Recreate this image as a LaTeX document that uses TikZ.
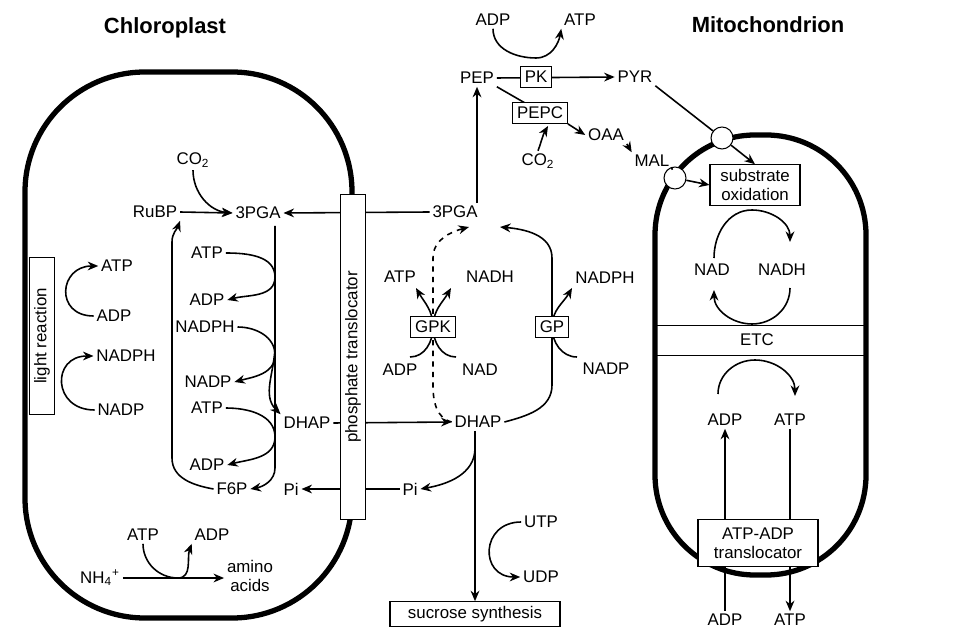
\documentclass[tikz,border=0pt]{standalone}
\usepackage{fontspec}
\setmainfont{Liberation Sans}
\usetikzlibrary{arrows.meta}
\tikzset{
  lbl/.style={inner sep=1.5pt, font=\fontsize{9.6}{11}\selectfont},
  box/.style={lbl, draw, fill=white, line width=0.6pt, inner sep=2.5pt},
  ttl/.style={font=\fontsize{12.5}{14}\selectfont\bfseries},
  ln/.style={line width=0.9pt},
  flow/.style={ln, -{Stealth[length=6pt,width=5pt]}},
  membrane/.style={line width=3pt},
}
\begin{document}
\begin{tikzpicture}[x=0.02cm, y=-0.02cm]
  \useasboundingbox (0,0) rectangle (969,644);

  %% titles
  \node[ttl] (tchl) at (165,28) {Chloroplast};
  \node[ttl] (tmit) at (768,25) {Mitochondrion};

  %% membranes
  \draw[membrane, rounded corners=2.4cm] (25,72) rectangle (352,618);
  \draw[membrane, rounded corners=2cm] (655,135) rectangle (866,575);
  \draw[line width=0.5pt] (656,325) -- (864,325) (656,355) -- (864,355);

  %% chloroplast labels
  \node[lbl] (cco) at (193,160) {CO\textsubscript{2}};
  \node[lbl] (rubp) at (155,212) {RuBP};
  \node[lbl] (cpga) at (258,213) {3PGA};
  \node[lbl] (latp) at (117,266) {ATP};
  \node[lbl] (ladp) at (114,316) {ADP};
  \node[lbl] (lnph) at (126,356) {NADPH};
  \node[lbl] (lnp) at (121,410) {NADP};
  \node[lbl] (a1) at (207,253) {ATP};
  \node[lbl] (d1) at (207,300) {ADP};
  \node[lbl] (nph) at (205,327) {NADPH};
  \node[lbl] (np) at (208,382) {NADP};
  \node[lbl] (a2) at (207,408) {ATP};
  \node[lbl] (d2) at (207,465) {ADP};
  \node[lbl] (f6p) at (232,489) {F6P};
  \node[lbl] (cdhap) at (307,423) {DHAP};
  \node[lbl] (cpi) at (291,489) {Pi};
  \node[lbl] (batp) at (143,535) {ATP};
  \node[lbl] (badp) at (212,535) {ADP};
  \node[lbl] (nh) at (100,578) {NH\textsubscript{4}\textsuperscript{+}};
  \node[lbl, align=center] (amino) at (250,576) {amino\\acids};

  %% light reaction
  \draw[flow] (ladp.west) to[out=180, in=180, looseness=2] (latp.west);
  \draw[flow] (lnp.west) to[out=180, in=180, looseness=2] (lnph.west);
  \node[box, rotate=90, minimum width=3.14cm, minimum height=0.34cm] (light) at (42,336) {light reaction};

  %% Calvin cycle
  \draw[flow] (rubp.east) -- (cpga.west);
  \draw[flow] (cco.south) to[out=-90, in=175] (cpga.west);
  \draw[flow] (275,226) -- (275,468) to[out=-90, in=10] (f6p.east);
  \draw[flow] (f6p.west) to[out=170, in=-90] (172,458) -- (172,242) to[out=90, in=-110] (rubp.south east);
  \draw[flow] (a1.east) to[out=0, in=90] (275,277) to[out=-90, in=15] (d1.east);
  \draw[flow] (nph.east) to[out=0, in=90] (275,355) to[out=-90, in=15] (np.east);
  \draw[flow] (a2.east) to[out=0, in=90] (275,437) to[out=-90, in=15] (d2.east);
  \draw[flow] (275,345) to[out=-90, in=135] (cdhap.north west);

  %% nitrogen
  \draw[flow] (nh.east) -- (amino.west |- nh.east);
  \draw[flow] (batp.south) to[out=-90, in=180] (178,578) to[out=0, in=-110] (badp.south west);

  %% cytosol
  \node[lbl] (mpga) at (455,212) {3PGA};
  \node[lbl] (mdhap) at (478,422) {DHAP};
  \node[lbl] (rpi) at (410,489) {Pi};
  \node[lbl] (gatp) at (400,277) {ATP};
  \node[lbl] (gnadh) at (490,277) {NADH};
  \node[lbl] (gadp) at (400,370) {ADP};
  \node[lbl] (gnad) at (480,370) {NAD};
  \node[lbl] (gnph) at (605,278) {NADPH};
  \node[lbl] (gnp) at (606,369) {NADP};
  \node[lbl] (utp) at (541,522) {UTP};
  \node[lbl] (udp) at (541,577) {UDP};
  \node[box, minimum width=3.4cm] (sucr) at (475,614) {sucrose synthesis};

  \draw[flow] (mpga.west) -- (cpga.east);
  \draw[flow] (cdhap.east) -- (mdhap.west);
  \draw[flow] (rpi.west) -- (cpi.east);
  \node[box, rotate=90, minimum width=6.5cm, minimum height=0.34cm] (ptr) at (353,357) {phosphate translocator};

  \draw[flow, dashed] (mdhap.west) to[out=165, in=-90] (433,385) -- (433,258) to[out=90, in=195] (469,227);
  \draw[flow] (mdhap.east) to[out=15, in=-90] (552,385) -- (552,258) to[out=90, in=-5] (500,227);
  \draw[flow] (410,357) to[out=0, in=-90] (433,327) to[out=90, in=-60] (416,288);
  \draw[flow] (456,357) to[out=180, in=-90] (433,327) to[out=90, in=-120] (451,288);
  \draw[flow] (577,357) to[out=180, in=-90] (552,327) to[out=90, in=-120] (572,288);
  \node[box] (gpk) at (433,327) {GPK};
  \node[box] (gp) at (552,327) {GP};

  \draw[flow] (mdhap.south -| sucr.north) -- (sucr.north);
  \draw[flow] (475,448) to[out=-90, in=10] (rpi.east);
  \draw[flow] (utp.west) to[out=180, in=180, looseness=1.9] (udp.west);

  %% PEP branch
  \node[lbl] (pep) at (477,78) {PEP};
  \node[lbl] (pyr) at (635,77) {PYR};
  \node[lbl] (padp) at (493,20) {ADP};
  \node[lbl] (patp) at (580,20) {ATP};
  \node[lbl] (oaa) at (606,135) {OAA};
  \node[lbl] (mal) at (652,161) {MAL};
  \node[lbl] (pco) at (538,161) {CO\textsubscript{2}};

  \draw[flow] (pep.south |- mpga.north) -- (pep.south);
  \draw[flow] (pep.east) -- (pyr.west);
  \draw[flow] (padp.south) to[out=-90, in=180] (536,58) to[out=0, in=-100] (patp.south west);
  \draw[ln] (pep.south east) -- (525,103);
  \node[box] (pk) at (536,77) {PK};
  \node[box] (pepc) at (540,113) {PEPC};
  \draw[flow] (pepc.south east) -- (oaa.west);
  \draw[flow] (pco.north) to[out=70, in=-120] (548,126);
  \draw[flow] (oaa.south east) -- (mal.north west);

  %% mitochondrion
  \node[box, minimum width=1.8cm, align=center] (subox) at (755,185) {substrate\\oxidation};
  \node[circle, draw, fill=white, line width=0.6pt, minimum size=0.44cm] (c1) at (722,138) {};
  \node[circle, draw, fill=white, line width=0.6pt, minimum size=0.44cm] (c2) at (675,178) {};
  \draw[ln] (pyr.south east) -- (c1);
  \draw[flow] (c1) -- (subox.north);
  \draw[ln] (mal.south east) -- (c2);
  \draw[flow] (c2) -- (subox.west);

  \node[lbl] (nad) at (712,270) {NAD};
  \node[lbl] (nadh) at (782,270) {NADH};
  \node[lbl] (etc) at (757,340) {ETC};
  \node[lbl] (madp) at (725,420) {ADP};
  \node[lbl] (matp) at (790,420) {ATP};
  \node[lbl] (oadp) at (725,620) {ADP};
  \node[lbl] (oatp) at (790,620) {ATP};
  \draw[flow] (714,258) to[out=90, in=180] (752,210) to[out=0, in=90] (790,242);
  \draw[flow] (790,288) to[out=-90, in=0] (752,324) to[out=180, in=-90] (714,290);
  \draw[flow] (718,394) to[out=90, in=180] (755,360) to[out=0, in=90] (795,396);
  \draw[flow] (oadp.north) -- (madp.south);
  \draw[flow] (matp.south) -- (oatp.north);
  \node[box, minimum width=2.4cm, minimum height=0.94cm, align=center] (aat) at (758,543) {ATP-ADP\\translocator};
\end{tikzpicture}
\end{document}
